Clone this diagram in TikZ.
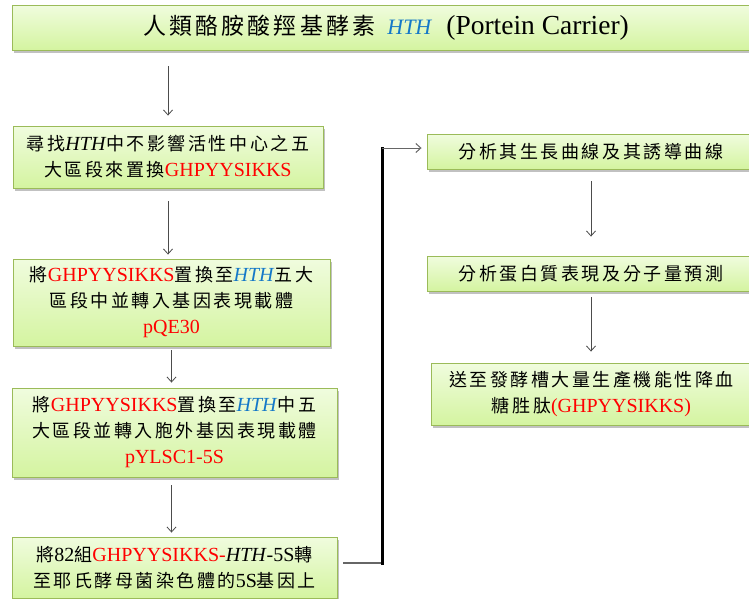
\documentclass[tikz,border=0pt]{standalone}
\usepackage{fontspec}
\setmainfont{Liberation Serif}
\newfontfamily\zhfont{Noto Sans CJK TC}[Scale=0.9,LetterSpace=14]
\usetikzlibrary{shadows,arrows.meta,calc}
\definecolor{boxtop}{RGB}{240,252,222}
\definecolor{boxbot}{RGB}{212,244,160}
\definecolor{boxline}{RGB}{155,187,89}
\definecolor{seqred}{RGB}{255,0,0}
\definecolor{hthblue}{RGB}{20,120,200}
\newcommand\zh[1]{{\zhfont #1}}
\newcommand\seq[1]{\textcolor{seqred}{#1}}
\newcommand\hth[1]{\textit{#1}}
\tikzset{
  box/.style={draw=boxline, line width=0.9pt, top color=boxtop, bottom color=boxbot,
    drop shadow={shadow xshift=1.5pt,shadow yshift=-2.5pt,fill=black!40,opacity=0.6},
    align=center, inner sep=2pt, font=\fontsize{20}{26}\selectfont},
  conn/.style={draw=black!70, line width=0.8pt, -{Straight Barb[length=5pt,width=9pt]}},
  elbowthin/.style={draw=black!60, line width=1.4pt},
  elbowthick/.style={draw=black, line width=3pt},
}
\begin{document}
\begin{tikzpicture}[x=1pt,y=-1pt]
\path[use as bounding box] (0,0) rectangle (749,598);
\clip (0,0) rectangle (749,598);
\fill[white] (0,0) rectangle (749,598);

\node[box, minimum width=748pt, minimum height=45pt] (title) at (386,27.5)
  {{\fontsize{25.5}{30}\selectfont\zh{人類酪胺酸羥基酵素}}\hspace{12pt}{\fontsize{22}{30}\selectfont\textcolor{hthblue}{\hth{HTH}}}\hspace{14pt}{\fontsize{27.5}{30}\selectfont(Portein Carrier)}};

\node[box, minimum width=310pt, minimum height=62pt] (b1) at (168,157)
  {\zh{尋找}\hth{HTH}\zh{中不影響活性中心之五}\\\zh{大區段來置換}\seq{GHPYYSIKKS}};

\node[box, minimum width=317pt, minimum height=87pt] (b2) at (171.5,302.5)
  {\zh{將}\seq{GHPYYSIKKS}\zh{置換至}\textcolor{hthblue}{\hth{HTH}}\zh{五大}\\\zh{區段中並轉入基因表現載體}\\\seq{pQE30}};

\node[box, minimum width=325pt, minimum height=89pt] (b3) at (174.5,432.5)
  {\zh{將}\seq{GHPYYSIKKS}\zh{置換至}\textcolor{hthblue}{\hth{HTH}}\zh{中五}\\\zh{大區段並轉入胞外基因表現載體}\\\seq{pYLSC1-5S}};

\node[box, minimum width=325pt, minimum height=61pt] (b4) at (174.5,567.5)
  {\zh{將}82\zh{組}\seq{GHPYYSIKKS-}\hth{HTH}-5S\zh{轉}\\\zh{至耶氏酵母菌染色體的}5S\zh{基因上}};

\node[box, minimum width=328pt, minimum height=35pt] (b5) at (591,151.5)
  {\zh{分析其生長曲線及其誘導曲線}};

\node[box, minimum width=328pt, minimum height=35pt] (b6) at (591,273.5)
  {\zh{分析蛋白質表現及分子量預測}};

\node[box, minimum width=321pt, minimum height=62pt] (b7) at (591.5,394)
  {\zh{送至發酵槽大量生產機能性降血}\\\zh{糖胜肽}\seq{(GHPYYSIKKS)}};

% vertical connectors
\draw[conn, shorten <=16pt, shorten >=10pt] (title.south -| b1.north) -- (b1.north);
\draw[conn, shorten <=13pt, shorten >=4pt] (b1.south) -- (b1.south |- b2.north);
\draw[conn, shorten <=4pt, shorten >=5pt] (b2.south) -- (b2.south |- b3.north);
\draw[conn, shorten <=8pt, shorten >=4pt] (b2.south |- b3.south) -- (b2.south |- b4.north);
\draw[conn, shorten <=12pt, shorten >=19pt] (b6.north |- b5.south) -- (b6.north);
\draw[conn, shorten <=6pt, shorten >=11pt] (b6.south) -- (b6.south |- b7.north);

% elbow connector
\coordinate (e1) at (343,563);
\coordinate (e2) at (382,563);
\coordinate (e3) at (382,148);
\draw[elbowthin] (e1) -- (e2);
\draw[elbowthick] ($(e2)+(0,1.5)$) -- ($(e3)+(0,-1.5)$);
\draw[conn, draw=black!60, line width=1pt, shorten >=5pt] (e3) -- (b5.west |- e3);
\end{tikzpicture}
\end{document}
